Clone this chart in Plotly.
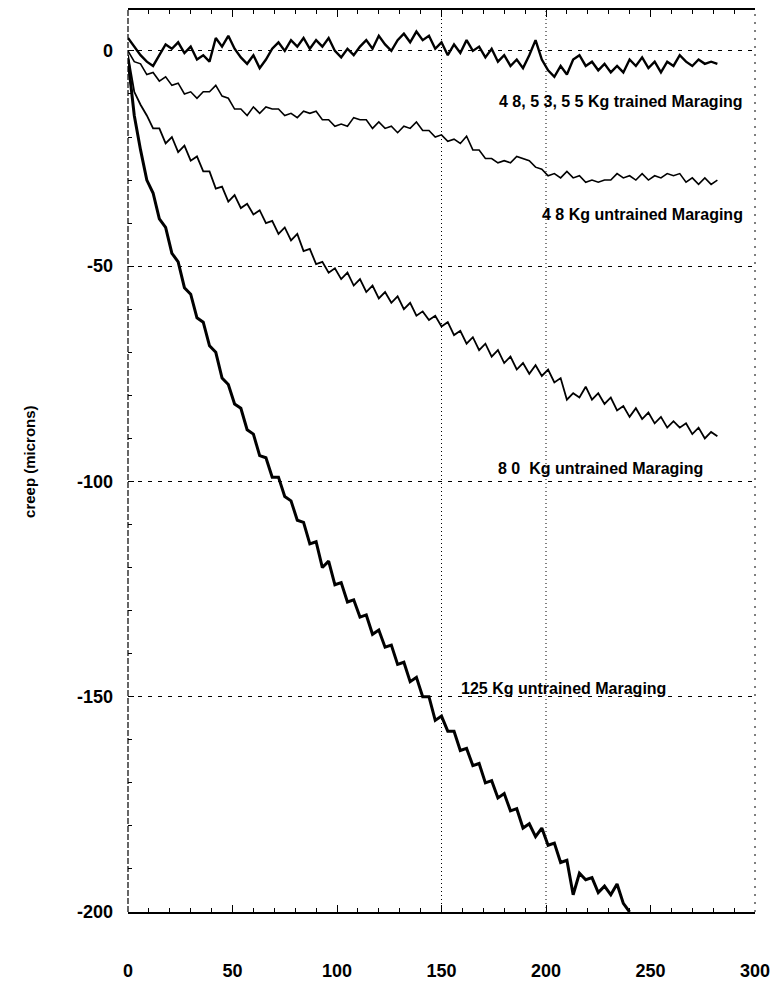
import plotly.graph_objects as go

# ---------------- data ----------------
x_trained = list(range(0, 283, 3))
creep_trained_48_53_55 = [
    3, 1, -1, -2.5, -3.5, -1, 1.5, 0.5, 2, -0.5,
    1, -2, -1, -2.5, 3, 1, 3.5, 0.5, -1.5, -3,
    -1, -4, -2, 0.5, 2, 0, 2.5, 1, 3, 0.5,
    2.5, 1, 3, 0, -1.5, 0.5, -1, 1, 2.5, 0.5,
    3.5, 1.5, 0, 2.5, 4, 2, 4.5, 2.5, 3.5, 0.5,
    2, -1, 1.5, -0.5, 2.5, 0, 1, -1.5, 0.5, -2.5,
    -1, -3.5, -2, -4, -1, 2.5, -2, -4.5, -6, -3.5,
    -5.5, -2, -1, -3.5, -2.5, -4.5, -3, -5, -3.5, -5,
    -2, -3.5, -1.5, -4, -2.5, -5, -2.5, -3.5, -1, -2.5,
    -3.5, -2, -3, -2.5, -3]

x_untrained_48 = list(range(0, 283, 3))
creep_untrained_48 = [
    0, -2.5, -3, -5.5, -5, -7, -6, -8, -7.5, -10,
    -9.5, -11, -9.5, -9.5, -8, -10.5, -11, -13.5, -13.5, -15,
    -13, -14.5, -13, -13.5, -13.5, -15, -14.5, -15.5, -14, -14.5,
    -14, -16, -16, -17.5, -17, -17.5, -15.5, -16, -16, -18,
    -16.5, -18, -17.5, -19, -17.5, -18, -16.5, -18.5, -18.5, -20,
    -19.5, -21, -20.5, -21.5, -19.8, -23, -23, -25, -25, -26,
    -25.5, -26, -24.5, -25, -25.5, -27, -27.5, -29, -28.5, -29.5,
    -28, -29.5, -29, -30.5, -30, -30.5, -30, -30, -28.5, -29.5,
    -29, -30, -28.5, -30, -29, -29.5, -28.5, -29, -28.5, -30.5,
    -29.5, -31, -29.5, -31, -30]

x_untrained_80 = list(range(0, 283, 3))
creep_untrained_80 = [
    -1, -9.5, -12.5, -15, -18, -18, -21.5, -20, -23.5, -22,
    -25.5, -24.5, -28, -28, -32, -31.5, -35, -33.5, -36.5, -35.5,
    -38, -37, -40, -39.5, -42.5, -41, -44, -42.5, -46.5, -46,
    -49.5, -49, -51.5, -50.5, -53, -51.5, -54.5, -53, -56, -54.5,
    -57.5, -56, -58.5, -57, -60, -58.5, -61.5, -60.5, -62.5, -61.5,
    -64, -63, -66, -65, -68, -66.5, -69.5, -68, -71, -69.5,
    -72.5, -71, -74, -72.5, -75, -73, -75.5, -74, -77, -76,
    -81, -79.5, -80.5, -78, -81, -79.5, -82, -80.5, -83.5, -82.5,
    -85, -83, -85.5, -84, -86.5, -85, -87.5, -86, -87.5, -86.5,
    -89, -87.5, -90, -88.5, -89.5]

x_untrained_125 = list(range(0, 241, 3))
creep_untrained_125 = [
    -2, -15, -23, -30, -33, -39, -41, -47, -49, -55,
    -56.5, -62, -63, -68.5, -70, -76, -77.5, -82, -83, -88,
    -89, -94, -94.5, -99, -99, -103.5, -104.5, -109, -109.5, -114.5,
    -114, -120, -118.5, -124, -123.5, -128, -127.5, -131.5, -131, -135.5,
    -134.5, -138.5, -138, -142.5, -142, -146.5, -145.5, -150, -150, -155.5,
    -154.5, -158, -158, -162.5, -162, -166, -165.5, -170, -169.5, -173.5,
    -172.5, -176.5, -176, -180.5, -179.5, -182.5, -180.5, -184.5, -184, -188.5,
    -188, -196, -191, -192.5, -192, -195.5, -194, -196, -193.5, -198, -200]

y_tick_vals = [0, -50, -100, -150, -200]
y_tick_text = ["0", "-50", "-100", "-150", "-200"]
x_tick_vals = [0, 50, 100, 150, 200, 250, 300]
x_tick_text = ["0", "50", "100", "150", "200", "250", "300"]

labels = ["4 8, 5 3, 5 5 Kg trained Maraging", "4 8 Kg untrained Maraging",
          "8 0  Kg untrained Maraging", "125 Kg untrained Maraging"]

# ---------------- figure ----------------
FONT = "Liberation Sans, Arial, Helvetica, sans-serif"
fig = go.Figure()

series = [
    (x_trained, creep_trained_48_53_55, 2.4),
    (x_untrained_48, creep_untrained_48, 1.6),
    (x_untrained_80, creep_untrained_80, 1.8),
    (x_untrained_125, creep_untrained_125, 3.0),
]
for xs, ys, w in series:
    fig.add_trace(go.Scatter(x=xs, y=ys, mode="lines",
                             line=dict(color="black", width=w),
                             showlegend=False, hoverinfo="skip"))

# vertical dotted reference lines at 150 and 200
for xv in (150, 200):
    fig.add_shape(type="line", xref="x", yref="paper", x0=xv, x1=xv, y0=0, y1=1,
                  line=dict(color="black", width=1, dash="1px,3px"), layer="below")
# left and right borders (broken lines, as on the scan)
fig.add_shape(type="line", xref="paper", yref="paper", x0=0, x1=0, y0=0, y1=1,
              line=dict(color="black", width=1.2, dash="6px,2px"))
fig.add_shape(type="line", xref="paper", yref="paper", x0=1, x1=1, y0=0, y1=1,
              line=dict(color="black", width=1, dash="2px,6px"))

label_pos = [(295, -11.8, "right"), (295, -38, "right"),
             (226, -97.1, "center"), (208.5, -148.1, "center")]
for text, (lx, ly, anc) in zip(labels, label_pos):
    fig.add_annotation(x=lx, y=ly, xref="x", yref="y", text=text, showarrow=False,
                       xanchor=anc, yanchor="middle",
                       font=dict(family=FONT, size=16, color="black", weight="bold"))

fig.add_annotation(x=-0.158, y=0.5, xref="paper", yref="paper", text="creep (microns)",
                   textangle=-90, showarrow=False, xanchor="center", yanchor="middle",
                   font=dict(family=FONT, size=15, color="black", weight="bold"))

fig.update_xaxes(range=[0, 300], tickvals=x_tick_vals, ticktext=x_tick_text,
                 ticks="inside", ticklen=7, tickwidth=1, tickcolor="black",
                 minor=dict(dtick=10, tick0=0, ticks="inside", ticklen=4,
                            tickcolor="black", showgrid=False),
                 showline=True, linecolor="black", linewidth=1.5, mirror="allticks",
                 showgrid=False, zeroline=False, ticklabelstandoff=42,
                 tickfont=dict(family=FONT, size=18, color="black", weight="bold"))
fig.update_yaxes(range=[-200, 9.5], tickvals=y_tick_vals, ticktext=y_tick_text,
                 ticks="inside", ticklen=6, tickwidth=1, tickcolor="black",
                 minor=dict(dtick=10, tick0=0, ticks="inside", ticklen=4,
                            tickcolor="black", showgrid=False),
                 showline=False, showgrid=True, gridcolor="black", gridwidth=1,
                 griddash="4px,6px", zeroline=False, ticklabelstandoff=14,
                 tickfont=dict(family=FONT, size=18, color="black", weight="bold"))

fig.update_layout(width=780, height=989, margin=dict(l=128, r=25, t=8, b=77),
                  paper_bgcolor="white", plot_bgcolor="white",
                  font=dict(family=FONT, color="black"))

fig.write_html("out.html")
